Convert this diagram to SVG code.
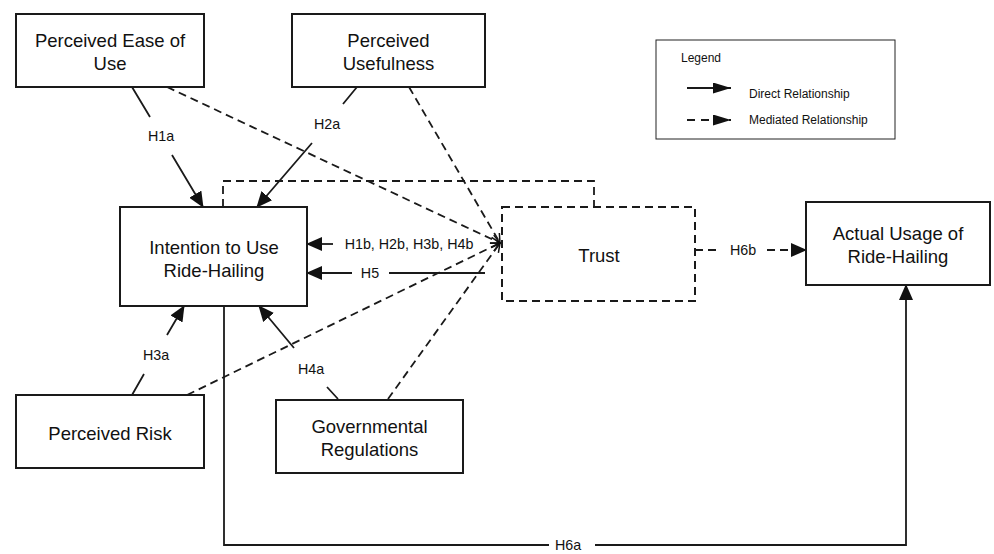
<svg xmlns="http://www.w3.org/2000/svg" width="994" height="554" viewBox="0 0 994 554">
<style>
.box{fill:#fff;stroke:#1a1a1a;stroke-width:2}
.dbox{fill:none;stroke:#1a1a1a;stroke-width:2;stroke-dasharray:8 5}
.t{font-family:"Liberation Sans",Arial,sans-serif;font-size:18.5px;fill:#111;text-anchor:middle}
.lbl{font-family:"Liberation Sans",Arial,sans-serif;font-size:14.3px;fill:#111;text-anchor:middle}
.lg{font-family:"Liberation Sans",Arial,sans-serif;font-size:12px;fill:#111}
.ln{fill:none;stroke:#1a1a1a;stroke-width:1.8}
.dl{fill:none;stroke:#1a1a1a;stroke-width:1.8;stroke-dasharray:8 5}
</style>
<defs>
<marker id="arr" viewBox="0 0 16 14" refX="15" refY="7" markerWidth="16" markerHeight="14" markerUnits="userSpaceOnUse" orient="auto">
<path d="M0,0 L16,7 L0,14 z" fill="#111"/>
</marker>
<marker id="arrL" viewBox="0 0 18 11" refX="18" refY="5.5" markerWidth="18" markerHeight="11" markerUnits="userSpaceOnUse" orient="auto">
<path d="M0,0 L18,5.5 L0,11 z" fill="#111"/>
</marker>
<marker id="open" viewBox="0 0 11 11" refX="10" refY="5.5" markerWidth="11" markerHeight="11" markerUnits="userSpaceOnUse" orient="auto">
<path d="M1,1 L10,5.5 L1,10" fill="none" stroke="#111" stroke-width="1.5"/>
</marker>
</defs>

<g id="connectors">
<path class="ln" d="M132,87 L150,117 M172,155 L203,207" marker-end="url(#arr)"/>
<path class="ln" d="M357,87 L343,104 M312,143 L257,207" marker-end="url(#arr)"/>
<path class="ln" d="M132,395 L144,374 M167,335 L184,306" marker-end="url(#arr)"/>
<path class="ln" d="M338,399 L327,387 M294,348 L259,306" marker-end="url(#arr)"/>
<path class="ln" d="M333,244 L307,244" marker-end="url(#arr)"/>
<path class="ln" d="M485,273 L389,273 M352,273 L307,273" marker-end="url(#arr)"/>
<path class="ln" d="M224,306 L224,545 L549,545 M595,545 L906,545 L906,285" marker-end="url(#arr)"/>
<path class="dl" d="M167,87 L500,243" marker-end="url(#open)"/>
<path class="dl" d="M409,87 L500,243" marker-end="url(#open)"/>
<path class="dl" d="M187,395 L500,243" marker-end="url(#open)"/>
<path class="dl" d="M388,399 L500,243" marker-end="url(#open)"/>
<path class="dl" d="M223,207 L223,181 L594,181 L594,207"/>
<path class="dl" d="M695,250 L720,250 M767,250 L806,250" marker-end="url(#arr)"/>
<text class="lbl" x="161" y="141">H1a</text>
<text class="lbl" x="327" y="129">H2a</text>
<text class="lbl" x="156" y="360">H3a</text>
<text class="lbl" x="311" y="374">H4a</text>
<text class="lbl" x="409" y="249">H1b, H2b, H3b, H4b</text>
<text class="lbl" x="370" y="278">H5</text>
<text class="lbl" x="743" y="255">H6b</text>
<text class="lbl" x="568" y="550">H6a</text>
</g>

<g id="peou">
<rect class="box" x="16" y="14" width="188" height="73"/>
<text class="t" x="110" y="47">Perceived Ease of</text>
<text class="t" x="110" y="70">Use</text>
</g>
<g id="pu">
<rect class="box" x="292" y="14" width="193" height="73"/>
<text class="t" x="388.5" y="47">Perceived</text>
<text class="t" x="388.5" y="70">Usefulness</text>
</g>
<g id="intention">
<rect class="box" x="120" y="207" width="187" height="99"/>
<text class="t" x="214" y="254">Intention to Use</text>
<text class="t" x="214" y="277">Ride-Hailing</text>
</g>
<g id="trust">
<rect class="dbox" x="502" y="207" width="193" height="94"/>
<text class="t" x="599" y="262">Trust</text>
</g>
<g id="actual">
<rect class="box" x="806" y="202" width="184" height="83"/>
<text class="t" x="898" y="240">Actual Usage of</text>
<text class="t" x="898" y="263">Ride-Hailing</text>
</g>
<g id="risk">
<rect class="box" x="16" y="395" width="188" height="73"/>
<text class="t" x="110" y="440">Perceived Risk</text>
</g>
<g id="gov">
<rect class="box" x="276" y="400" width="187" height="73"/>
<text class="t" x="369.5" y="433">Governmental</text>
<text class="t" x="369.5" y="456">Regulations</text>
</g>
<g id="legend">
<rect x="656" y="40" width="239" height="99" fill="#fff" stroke="#222" stroke-width="1"/>
<text class="lg" x="681" y="62">Legend</text>
<path class="ln" d="M687,88 L731,88" marker-end="url(#arrL)"/>
<text class="lg" x="749" y="98">Direct Relationship</text>
<path class="ln" d="M687,120 L731,120" stroke-dasharray="8 6" marker-end="url(#arrL)"/>
<text class="lg" x="749" y="124">Mediated Relationship</text>
</g>
</svg>
